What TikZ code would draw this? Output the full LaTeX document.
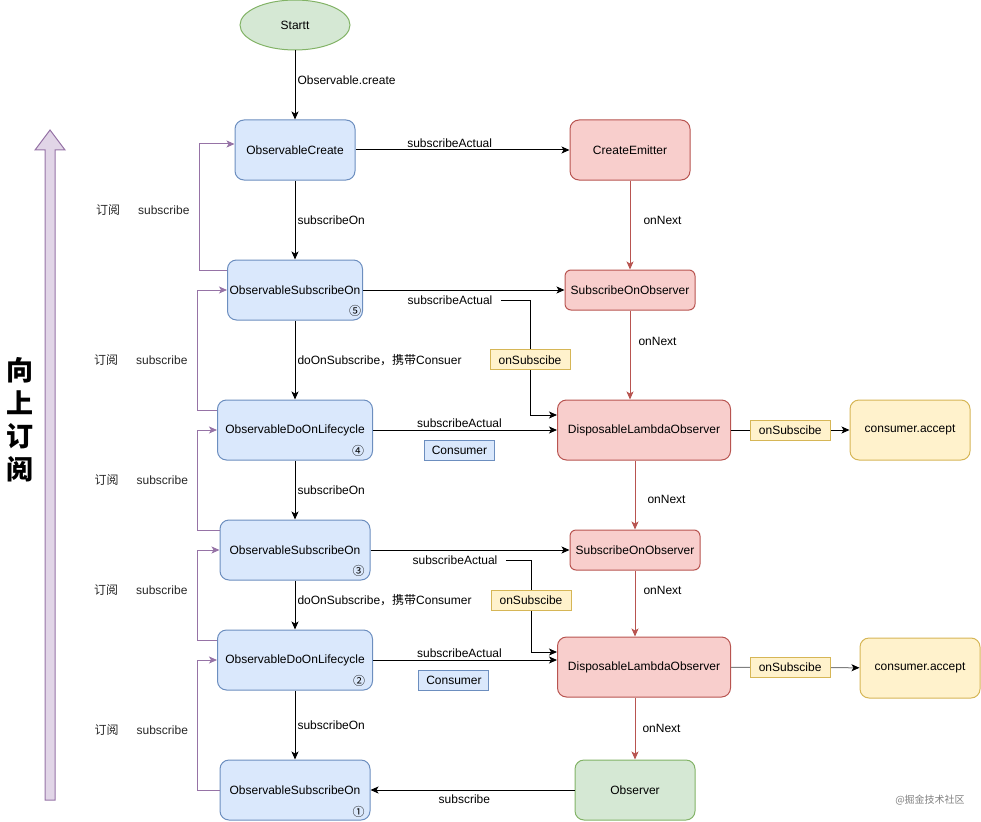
\documentclass[tikz,border=0pt]{standalone}
\usepackage{fontspec}
\setmainfont{Liberation Sans}
\newfontfamily\cjk{Noto Sans CJK SC}
\usepackage{tikz}
\usetikzlibrary{shapes.geometric,arrows.meta}

\definecolor{bfill}{HTML}{DAE8FC}
\definecolor{bdraw}{HTML}{6C8EBF}
\definecolor{rfill}{HTML}{F8CECC}
\definecolor{rdraw}{HTML}{B85450}
\definecolor{gfill}{HTML}{D5E8D4}
\definecolor{gdraw}{HTML}{82B366}
\definecolor{yfill}{HTML}{FFF2CC}
\definecolor{ydraw}{HTML}{D6B656}
\definecolor{pfill}{HTML}{E1D5E7}
\definecolor{pdraw}{HTML}{9673A6}
\definecolor{lgray}{HTML}{808080}

\begin{document}
\begin{tikzpicture}[x=1pt,y=-1pt,>={Stealth[length=8pt,width=7pt,inset=2pt]},line width=1pt,
    every node/.style={font=\fontsize{12}{14}\selectfont},
    ell/.style={ellipse,draw=gdraw,fill=gfill,minimum width=110pt,minimum height=50pt,inner sep=0pt},
    bbox/.style={draw=bdraw,fill=bfill,rounded corners=9pt,minimum width=#1,minimum height=60pt,inner sep=0pt},
    rbox/.style={draw=rdraw,fill=rfill,rounded corners=9pt,minimum width=#1,minimum height=60pt,inner sep=0pt},
    gbox/.style={draw=gdraw,fill=gfill,rounded corners=9pt,minimum width=#1,minimum height=60pt,inner sep=0pt},
    ycard/.style={draw=ydraw,fill=yfill,rounded corners=9pt,minimum width=#1,minimum height=60pt,inner sep=0pt},
    ybox/.style={draw=ydraw,fill=yfill,minimum width=80pt,minimum height=20pt,inner sep=0pt},
    tag/.style={draw=bdraw,fill=bfill,minimum width=70pt,minimum height=20pt,inner sep=0pt},
    num/.style={font=\cjk\fontsize{12}{14}\selectfont,anchor=center,inner sep=0pt,xshift=-13pt,yshift=10pt},
    lbl/.style={anchor=west,inner sep=1pt,xshift=1pt},
    sub/.style={anchor=east,inner sep=0pt,xshift=-9pt,text=black!85},
    rline/.style={->,draw=rdraw},
    pline/.style={->,draw=pdraw}]
  \useasboundingbox (0,0) rectangle (981,821);

  % big arrow on the left
  \filldraw[draw=pdraw,fill=pfill] (45,800) -- (45,150) -- (35,150) -- (50,130)
    -- (65,150) -- (55,150) -- (55,800) -- cycle;
  \node[font=\cjk\bfseries\fontsize{27}{33}\selectfont,align=center,inner sep=0pt]
    (title) at (20,420) {向\\上\\订\\阅};

  % left chain
  \node[ell] (start) at (295,25) {Startt};
  \node[bbox=120pt] (oc) at (295,150) {ObservableCreate};
  \node[bbox=135pt,label={[num,xshift=5pt]south east:⑤}] (os5) at (295,290) {ObservableSubscribeOn};
  \node[bbox=155pt,label={[num,xshift=-2pt]south east:④}] (od4) at (295,430) {ObservableDoOnLifecycle};
  \node[bbox=150pt,label={[num,xshift=1pt]south east:③}] (os3) at (295,550) {ObservableSubscribeOn};
  \node[bbox=155pt,label={[num,xshift=-1pt]south east:②}] (od2) at (295,660) {ObservableDoOnLifecycle};
  \node[bbox=150pt,label={[num,xshift=1pt,yshift=-1pt]south east:①}] (os1) at (295,790) {ObservableSubscribeOn};

  % right chain
  \node[rbox=120pt] (ce) at (630,150) {CreateEmitter};
  \node[rbox=130pt,minimum height=40pt,rounded corners=6pt] (soo1) at (630,290) {SubscribeOnObserver};
  \node[rbox=173pt] (dlo1) at (644,430) {DisposableLambdaObserver};
  \node[rbox=130pt,minimum height=40pt,rounded corners=6pt] (soo2) at (635,550) {SubscribeOnObserver};
  \node[rbox=173pt] (dlo2) at (644,667) {DisposableLambdaObserver};
  \node[gbox=120pt] (obs) at (635,790) {Observer};
  \node[ycard=120pt] (ca1) at (910,430) {consumer.accept};
  \node[ycard=120pt] (ca2) at (920,668) {consumer.accept};

  \node[inner xsep=8pt,inner ysep=0pt] (sa5) at (450,300) {subscribeActual};
  \node[inner xsep=8pt,inner ysep=0pt] (sa3) at (455,560) {subscribeActual};
  \coordinate (j5) at (530,415);
  \coordinate (j3) at (531,652);

  % downwards
  \draw[->] (start) -- node[lbl,pos=.43]{Observable.create} (oc);
  \draw[->] (oc) -- node[lbl]{subscribeOn} (os5);
  \draw[->] (os5) -- node[lbl]{doOnSubscribe{\cjk，携带}Consuer} (od4);
  \draw[->] (od4) -- node[lbl]{subscribeOn} (os3);
  \draw[->] (os3) -- node[lbl,pos=.4]{doOnSubscribe{\cjk，携带}Consumer} (od2);
  \draw[->] (od2) -- node[lbl]{subscribeOn} (os1);

  % across
  \draw[->] (oc) -- node[above,pos=.44,inner sep=2pt]{subscribeActual} (ce);
  \draw[->] (os5) -- (soo1);
  \draw[->] (sa5.east) -| node[ybox,pos=.76]{onSubscibe} (j5) -- (j5 -| dlo1.west);
  \draw[->] (od4) -- node[above,pos=.47,inner sep=2pt]{subscribeActual}
    node[tag,pos=.47,below=10pt]{Consumer} (dlo1);
  \draw[->] (os3) -- (soo2);
  \draw[->] (sa3.east) -| node[ybox,pos=.72]{onSubscibe} (j3) -- (j3 -| dlo2.west);
  \draw[->] (od2) -- node[above,pos=.47,inner sep=2pt]{subscribeActual}
    node[tag,pos=.44,below=10pt]{Consumer} (od2 -| dlo2.west);
  \draw[->] (obs) -- node[below,pos=.54,inner sep=4pt]{subscribe} (os1);
  \draw[->] (dlo1) -- node[ybox]{onSubscibe} (ca1);
  \draw[-{Stealth[length=8pt,width=7pt,inset=2pt,color=black]},draw=lgray] (dlo2) -- node[ybox,pos=.46]{onSubscibe} (ca2);

  % onNext
  \draw[rline] (ce) -- node[lbl,pos=.45,xshift=11pt]{onNext} (soo1);
  \draw[rline] (soo1) -- node[lbl,pos=.35,xshift=6pt]{onNext} (soo1 |- dlo1.north);
  \draw[rline] (soo2 |- dlo1.south) -- node[lbl,pos=.57,xshift=10pt]{onNext} (soo2);
  \draw[rline] (soo2) -- node[lbl,pos=.3,xshift=6pt]{onNext} (soo2 |- dlo2.north);
  \draw[rline] (obs |- dlo2.south) -- node[lbl,xshift=5pt]{onNext} (obs);

  % subscribe upwards
  \draw[pline] ([yshift=20pt]os5.west) -- ++(-28,0)
    |- node[sub,pos=.238]{{\cjk 订阅}\hspace{18pt}subscribe} ([yshift=6pt]oc.west);
  \draw[pline] ([yshift=20pt]od4.west) -- ++(-20,0)
    |- node[sub,pos=.208]{{\cjk 订阅}\hspace{18pt}subscribe} (os5.west);
  \draw[pline] ([yshift=20pt]os3.west) -- ++(-22,0)
    |- node[sub,pos=.25]{{\cjk 订阅}\hspace{18pt}subscribe} (od4.west);
  \draw[pline] ([yshift=20pt]od2.west) -- ++(-20,0)
    |- node[sub,pos=.278]{{\cjk 订阅}\hspace{18pt}subscribe} (os3.west);
  \draw[pline] (os1.west) -- ++(-22,0)
    |- node[sub,pos=.23]{{\cjk 订阅}\hspace{18pt}subscribe} (od2.west);

  \node[font=\cjk\fontsize{10}{12}\selectfont,text=gray] (mark) at (930,800) {@掘金技术社区};
\end{tikzpicture}
\end{document}
